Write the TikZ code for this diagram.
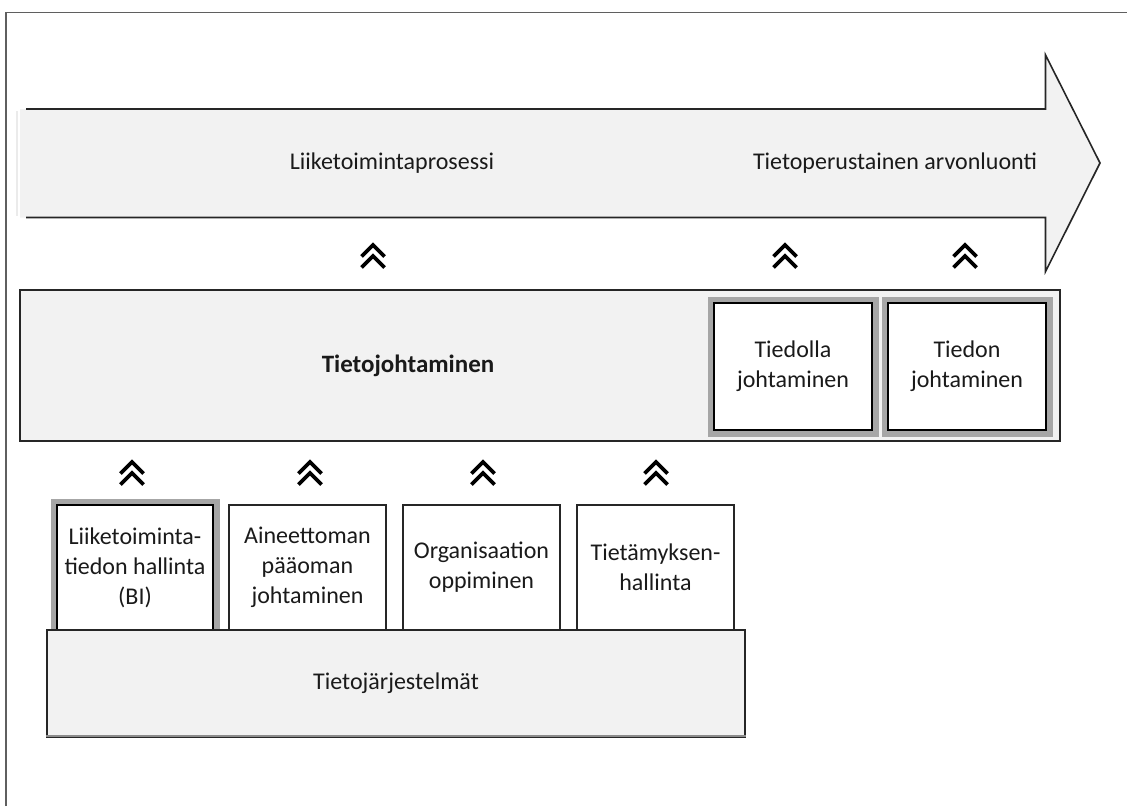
\documentclass[tikz,border=0pt]{standalone}
\usepackage{fontspec}
\setmainfont{Carlito}
\definecolor{panel}{HTML}{F2F2F2}
\definecolor{edgec}{HTML}{262626}
\definecolor{framec}{HTML}{5F5F5F}
\definecolor{hlgray}{HTML}{A6A6A6}
\definecolor{ink}{HTML}{1A1A1A}
\begin{document}
\begin{tikzpicture}[x=1pt,y=-1pt,
  every node/.style={text=ink, font=\fontsize{24}{30}\selectfont, align=center, inner sep=0pt},
  edge/.style={draw=edgec, line width=1.6pt},
  panelbox/.style={rectangle, fill=panel, edge},
  plainbox/.style={rectangle, fill=white, edge, minimum height=125pt},
  hlbox/.style={rectangle, fill=white, draw=black, line width=2pt,
    preaction={draw=hlgray, line width=13pt}},
  chevline/.style={draw=black, line width=3.8pt, miter limit=10},
  chev/.pic={
    \draw[chevline] (-11.5,11.5) -- (0,0) -- (11.5,11.5);
    \draw[chevline] (-11.5,22.5) -- (0,11) -- (11.5,22.5);
  }]
\useasboundingbox (0,0) rectangle (1127,806);
\fill[white] (0,0) rectangle (1127,806);

% page frame
\draw[framec, line width=1.6pt] (6,806) -- (6,12.5) -- (1127,12.5);

% process arrow
\fill[panel] (20,109) -- (1045.5,109) -- (1045.5,55) -- (1100,163)
  -- (1045.5,271.5) -- (1045.5,217.5) -- (20,217.5) -- cycle;
\draw[black!8, line width=2.5pt] (17,111) -- (17,216);
\draw[edge, line join=miter] (26,109) -- (1045.5,109) -- (1045.5,55) -- (1100,163)
  -- (1045.5,271.5) -- (1045.5,217.5) -- (26,217.5);
\node (proc) at (392,163) {Liiketoimintaprosessi};
\node (value) at (895,163) {Tietoperustainen arvonluonti};

% knowledge management band
\node[panelbox, minimum width=1040pt, minimum height=151pt] (tj) at (540,365.5) {};
\node[font=\fontsize{25}{30}\selectfont\bfseries] (tjlabel) at (408,366) {Tietojohtaminen};
\node[hlbox, minimum width=158pt, minimum height=127pt] (tiedolla) at (793,366.5)
  {Tiedolla\\johtaminen};
\node[hlbox, minimum width=158pt, minimum height=127pt] (tiedon) at (967,366.5)
  {Tiedon\\johtaminen};

% arrows up into the process
\coordinate (u1) at (373,245);
\coordinate (u2) at (785,245);
\coordinate (u3) at (965,245);
\pic at (u1) {chev};
\pic at (u2) {chev};
\pic at (u3) {chev};

% contributing disciplines
\node[hlbox, minimum width=156pt, minimum height=125pt] (bi) at (135,567.5)
  {Liiketoiminta-\\tiedon hallinta\\(BI)};
\node[plainbox, minimum width=157pt] (ic) at (307.5,567.5)
  {Aineettoman\\pääoman\\johtaminen};
\node[plainbox, minimum width=157pt] (ol) at (481.5,567.5)
  {Organisaation\\oppiminen};
\node[plainbox, minimum width=157pt] (km) at (655.5,567.5)
  {Tietämyksen-\\hallinta};

\coordinate (d1) at (132,462);
\coordinate (d2) at (310,462);
\coordinate (d3) at (483,462);
\coordinate (d4) at (656,462);
\pic at (d1) {chev};
\pic at (d2) {chev};
\pic at (d3) {chev};
\pic at (d4) {chev};

% information systems base
\node[panelbox, minimum width=697.5pt, minimum height=107pt] (is) at (396,683.5)
  {Tietojärjestelmät};
\draw[black!45, line width=1.5pt] ([yshift=1.8pt]is.south west) -- ([yshift=1.8pt]is.south east);
\end{tikzpicture}
\end{document}
